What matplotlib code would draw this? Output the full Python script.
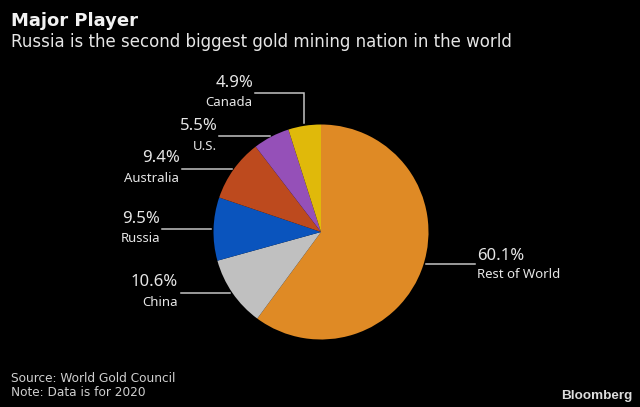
import matplotlib
matplotlib.use("Agg")
import matplotlib.pyplot as plt

# Share of world gold output, clockwise from 12 o'clock
countries = ['Rest of World', 'China', 'Russia', 'Australia', 'U.S.', 'Canada']
shares = [60.1, 10.6, 9.5, 9.4, 5.5, 4.9]
colors = ['#df8a25', '#c0c0c0', '#0a54bd', '#bd4a1e', '#9550b8', '#e0b90a']

# Label anchors in pixels: x, percent baseline side, leader line points
pct_pos = [(477, 256), (178, 282), (160, 219), (180, 158), (218, 126), (253, 83)]
name_pos = [(477, 274), (178, 302), (160, 238), (179, 178), (217, 146), (252, 103)]
aligns = ['left', 'right', 'right', 'right', 'right', 'right']
leaders = [
    ([426, 475], [264, 264]),
    ([181, 230], [293, 293]),
    ([162, 211], [229, 229]),
    ([182, 232], [169, 169]),
    ([219, 270], [136, 136]),
    ([255, 304, 304], [93, 93, 123]),
]

bg = '#000000'
text_col = '#e6e6e6'
line_col = '#c4c4c4'

fig = plt.figure(figsize=(6.4, 4.07), dpi=100, facecolor=bg)

# overlay in pixel coords for text and leader lines
ax = fig.add_axes([0, 0, 1, 1])
ax.set_xlim(0, 640)
ax.set_ylim(407, 0)
ax.axis('off')

cx, cy, r = 321, 232, 107.5
pie_ax = fig.add_axes([(cx - r) / 640, (407 - cy - r) / 407, 2 * r / 640, 2 * r / 407])
pie_ax.pie(shares, colors=colors, startangle=90, counterclock=False, radius=1)
pie_ax.set_xlim(-1, 1)
pie_ax.set_ylim(-1, 1)

ax.text(11, 21, 'Major Player', color='#f2f2f2', fontsize=13, fontweight='bold',
        family='DejaVu Sans', va='center')
ax.text(11, 42, 'Russia is the second biggest gold mining nation in the world',
        color=text_col, fontsize=12, family='DejaVu Sans', va='center')

for name, val, p, n, ha, (lx, ly) in zip(countries, shares, pct_pos, name_pos, aligns, leaders):
    ax.plot(lx, ly, color=line_col, lw=1.1, solid_joinstyle='miter')
    ax.text(p[0], p[1], f'{val}%', color=text_col, fontsize=12, family='Noto Sans',
            ha=ha, va='center')
    ax.text(n[0], n[1], name, color=text_col, fontsize=9.5, family='Noto Sans',
            ha=ha, va='center')

ax.text(11, 378, 'Source: World Gold Council', color='#cfcfcf', fontsize=8.7,
        family='DejaVu Sans', va='center')
ax.text(11, 393, 'Note: Data is for 2020', color='#cfcfcf', fontsize=8.7,
        family='DejaVu Sans', va='center')
ax.text(632, 396, 'Bloomberg', color='#dcdcdc', fontsize=9.7, fontweight='bold',
        family='Liberation Sans', ha='right', va='center')

fig.savefig('out.png', dpi=100, facecolor=bg)
